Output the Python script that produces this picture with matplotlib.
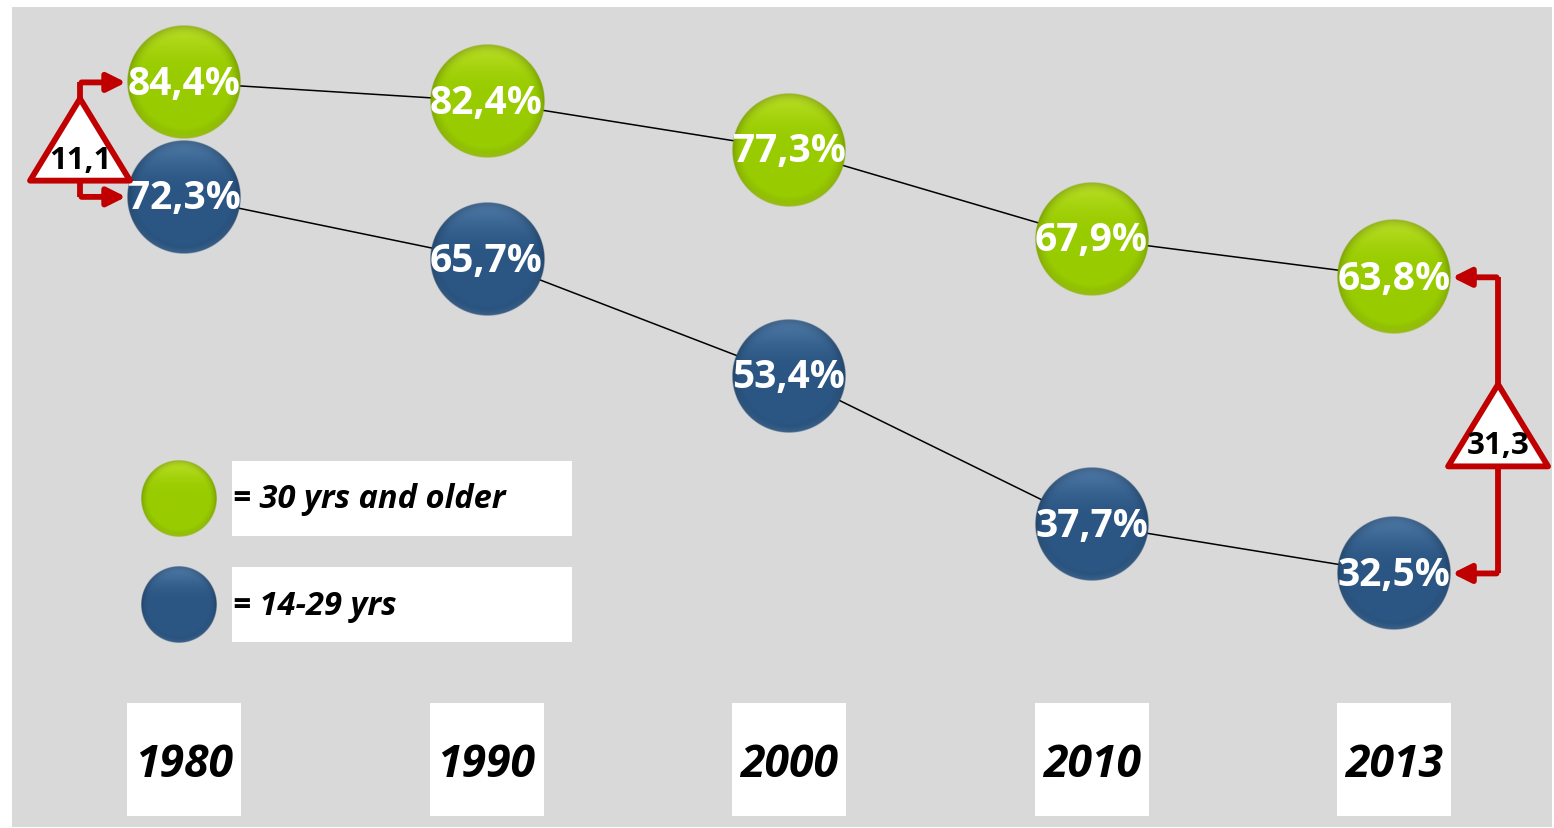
"""Share of age groups 1980-2013, drawn as ball chart."""

import matplotlib

matplotlib.use("Agg")
import matplotlib.pyplot as plt
import numpy as np
from matplotlib.patches import Polygon, Rectangle

plt.rcParams["font.family"] = ["Open Sans", "DejaVu Sans"]

years = ["1980", "1990", "2000", "2010", "2013"]
older = [84.4, 82.4, 77.3, 67.9, 63.8]
younger = [72.3, 65.7, 53.4, 37.7, 32.5]
# gap labels as printed in the original chart
gap_labels = ["11,1", "31,3"]
gap_columns = [0, 4]
legend_labels = ["= 30 yrs and older", "= 14-29 yrs"]

GREEN = np.array([0.60, 0.80, 0.00])
GREEN_HI = np.array([0.86, 0.95, 0.30])
BLUE = np.array([0.17, 0.34, 0.52])
BLUE_HI = np.array([0.45, 0.62, 0.80])
RED = "#c00000"

W, H = 1554, 829
fig = plt.figure(figsize=(W / 100, H / 100), dpi=100, facecolor="white")
ax = fig.add_axes([12 / W, 1 - 828 / H, 1540 / W, 820 / H])
ax.set_facecolor("#d9d9d9")
ax.set_xlim(-0.5686, 4.522)
ax.set_ylim(5.70, 92.37)
ax.axis("off")
ax.add_patch(Rectangle((0, 0), 1, 1, transform=ax.transAxes, color="#d9d9d9", zorder=0))

x0, x1 = ax.get_xlim()
y0, y1 = ax.get_ylim()
sx = 1540 / (x1 - x0)  # px per x unit
sy = 820 / (y1 - y0)  # px per y unit


def frac_to_data(fx, fy):
    return x0 + fx * (x1 - x0), y0 + fy * (y1 - y0)


def ball_image(base, hi, n=240):
    u = np.linspace(-1, 1, n)
    uu, vv = np.meshgrid(u, u[::-1])
    r = np.sqrt(uu ** 2 + vv ** 2)
    img = np.zeros((n, n, 4))
    light = np.clip((vv - 0.15) / 0.85, 0, 1) ** 1.6 * 0.55
    edge = np.clip((r - 0.78) / 0.22, 0, 1) ** 2 * 0.22
    rim = np.clip((r - 0.88) / 0.12, 0, 1) * np.clip(-vv, 0, 1) * 0.35
    rgb = base[None, None, :] * (1 - light[..., None]) + hi[None, None, :] * light[..., None]
    rgb = rgb * (1 - edge[..., None])
    rgb = rgb * (1 - rim[..., None]) + hi[None, None, :] * rim[..., None]
    img[..., :3] = np.clip(rgb, 0, 1)
    img[..., 3] = np.clip((1 - r) * n / 2, 0, 1)
    return img


green_img = ball_image(GREEN, GREEN_HI)
blue_img = ball_image(BLUE, BLUE_HI)


def draw_ball(x, y, r_px, img):
    rx, ry = r_px / sx, r_px / sy
    ax.imshow(img, extent=[x - rx, x + rx, y - ry, y + ry], origin="upper",
              aspect="auto", zorder=3, interpolation="bilinear")


xs = np.arange(len(years))

# connecting lines
ax.plot(xs, older, color="black", lw=1.1, zorder=2)
ax.plot(xs, younger, color="black", lw=1.1, zorder=2)

R = 57
for x, vo, vy in zip(xs, older, younger):
    draw_ball(x, vo, R, green_img)
    draw_ball(x, vy, R, blue_img)
    for v in (vo, vy):
        ax.text(x, v - 0.1, f"{v:.1f}".replace(".", ",") + "%", ha="center", va="center",
                color="white", fontsize=28, fontweight="bold", zorder=4)

# year boxes
for x, yr in zip(xs, years):
    bx = 57 / sx
    _, by0 = frac_to_data(0, 0.0134)
    _, by1 = frac_to_data(0, 0.151)
    ax.add_patch(Rectangle((x - bx, by0), 2 * bx, by1 - by0, facecolor="white",
                           edgecolor="none", zorder=2))
    ax.text(x, (by0 + by1) / 2 - 0.5, yr, ha="center", va="center", fontsize=32,
            fontweight="bold", style="italic", color="black", zorder=3)

# legend
for fy, (fb0, fb1), img, label in [
    (0.400, (0.3549, 0.4463), green_img, legend_labels[0]),
    (0.2707, (0.2256, 0.3171), blue_img, legend_labels[1]),
]:
    lx, ly = frac_to_data(0.1084, fy)
    draw_ball(lx, ly, 38, img)
    bx0, by0 = frac_to_data(0.1429, fb0)
    bx1, by1 = frac_to_data(0.3636, fb1)
    ax.add_patch(Rectangle((bx0, by0), bx1 - bx0, by1 - by0, facecolor="white",
                           edgecolor="none", zorder=2))
    ax.text(bx0 + 1 / sx, ly, label, ha="left", va="center", fontsize=23.5,
            fontweight="bold", style="italic", color="black", zorder=3)

# gap triangles with arrows
for col, label, side in zip(gap_columns, gap_labels, [-1, 1]):
    hi, lo = older[col], younger[col]
    mid = (hi + lo) / 2
    tx = col + side * 104 / sx
    apex = mid + 41 / sy
    base = mid - 41 / sy
    tri = Polygon([(tx, apex), (tx - 50 / sx, base), (tx + 50 / sx, base)], closed=True,
                  facecolor="white", edgecolor=RED, lw=4.2, joinstyle="round", zorder=5)
    ax.add_patch(tri)
    ax.text(tx, base + 21 / sy, label, ha="center", va="center", fontsize=22.5,
            fontweight="bold", color="black", zorder=6)
    edge_x = col + side * (R + 1) / sx
    for start, target in [(apex, hi), (base, lo)]:
        ax.plot([tx, tx], [start, target], color=RED, lw=4.2, solid_capstyle="butt", zorder=4)
        ax.annotate("", xy=(edge_x, target), xytext=(tx - side * 1.5 / sx, target),
                    arrowprops=dict(arrowstyle="-|>,head_length=1.1,head_width=0.55",
                                    color=RED, lw=4.2, shrinkA=0, shrinkB=0),
                    zorder=4)

fig.savefig("out.png", dpi=100, facecolor="white")
